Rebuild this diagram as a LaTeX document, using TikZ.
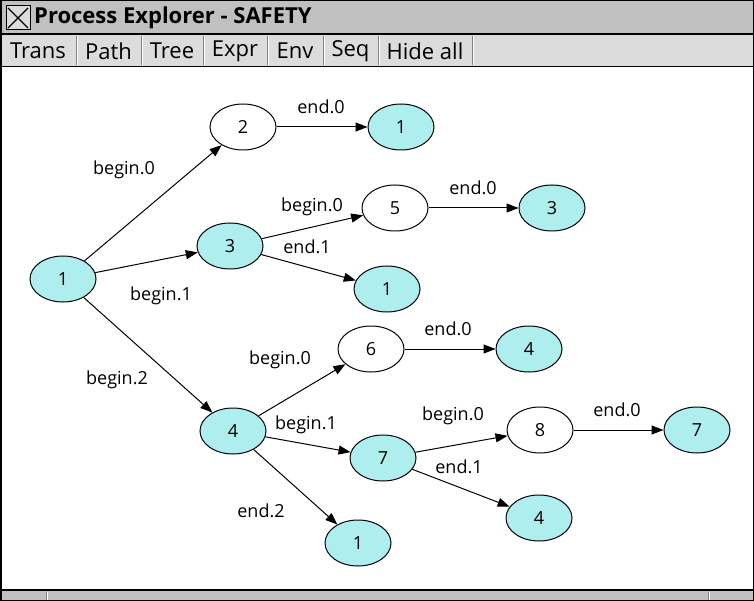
\documentclass[tikz,border=0pt]{standalone}
\usepackage{fontspec}
\setmainfont{Open Sans}
\usetikzlibrary{shapes.geometric,arrows.meta}
\definecolor{statefill}{RGB}{175,238,238}
\definecolor{titlegray}{RGB}{192,192,192}
\definecolor{bargray}{RGB}{220,220,220}

\begin{document}
\begin{tikzpicture}[x=1pt,y=-1pt,every node/.style={font=\fontsize{18}{21}\selectfont},
state/.style={ellipse,draw,line width=1pt,minimum width=66pt,minimum height=46pt,inner sep=0pt,fill=white},
seen/.style={state,fill=statefill},
trans/.style={-{Triangle[length=12pt,width=9pt]},line width=1pt},
lab/.style={inner sep=0pt},
button/.style={font=\fontsize{22}{25}\selectfont,inner sep=0pt}
]
\useasboundingbox (0,0) rectangle (754,601);
% window
\fill[white] (0,0) rectangle (754,601);
\fill[titlegray] (0,0) rectangle (754,34);
\fill[bargray] (0,34) rectangle (754,66);
\fill[titlegray] (0,590) rectangle (754,601);
\draw[line width=2pt] (0,34) -- (754,34);
\draw[line width=1.5pt] (0,66.5) -- (754,66.5);
\draw[line width=1.5pt] (0,590) -- (754,590);
\draw[line width=1.5pt] (0.75,0.75) rectangle (753.25,600.25);
\draw[fill=bargray,line width=1pt] (6,6) rectangle (30,30);
\draw[line width=1.3pt] (8,8) -- (28,28) (28,8) -- (8,28);
\node[font=\bfseries\fontsize{22}{25}\selectfont,anchor=west,inner sep=0pt] (title) at (34,18) {Process Explorer - SAFETY};
\foreach \txt/\l/\r in {Trans/0/76,Path/76/141,Tree/141/203,Expr/203/267,Env/267/323,Seq/323/378,Hide all/378/472}{
\node[button] (b\r) at ({(\l+\r)/2},51) {\txt};
\draw[gray,line width=1pt] (\r,36) -- (\r,65);
\draw[white,line width=1pt] (\r+1.5,36) -- (\r+1.5,65);
} % <- end buttons
\foreach \x in {46,708}{
\draw[gray,line width=1pt] (\x,592) -- (\x,600);
\draw[white,line width=1pt] (\x+1.5,592) -- (\x+1.5,600);
} % <- end scrollbar

% states
\node[seen] (s1) at (63,279) {1};
\node[state] (s2) at (243,127) {2};
\node[seen] (s2a) at (401,127) {1};
\node[seen] (s3) at (230,246) {3};
\node[state] (s5) at (395,208) {5};
\node[seen] (s5a) at (552,208) {3};
\node[seen] (s3a) at (387,289) {1};
\node[seen] (s4) at (233,431) {4};
\node[state] (s6) at (371,349) {6};
\node[seen] (s6a) at (529,349) {4};
\node[seen] (s7) at (383,458) {7};
\node[state] (s8) at (540,430) {8};
\node[seen] (s8a) at (697,430) {7};
\node[seen] (s7a) at (539,518) {4};
\node[seen] (s4a) at (358,543) {1};

% transitions
\draw[trans] (s1) -- (s2);
\draw[trans] (s2) -- (s2a);
\draw[trans] (s1) -- (s3);
\draw[trans] (s3) -- (s5);
\draw[trans] (s5) -- (s5a);
\draw[trans] (s3) -- (s3a);
\draw[trans] (s1) -- (s4);
\draw[trans] (s4) -- (s6);
\draw[trans] (s6) -- (s6a);
\draw[trans] (s4) -- (s7);
\draw[trans] (s7) -- (s8);
\draw[trans] (s8) -- (s8a);
\draw[trans] (s7) -- (s7a);
\draw[trans] (s4) -- (s4a);

% labels
\node[lab] (l12) at (124,170) {begin.0};
\node[lab] (l22a) at (321,107) {end.0};
\node[lab] (l13) at (161,296) {begin.1};
\node[lab] (l35) at (312,207) {begin.0};
\node[lab] (l55a) at (473,188) {end.0};
\node[lab] (l33a) at (307,247) {end.1};
\node[lab] (l14) at (117,380) {begin.2};
\node[lab] (l46) at (280,360) {begin.0};
\node[lab] (l66a) at (448,329) {end.0};
\node[lab] (l47) at (306,425) {begin.1};
\node[lab] (l78) at (453,416) {begin.0};
\node[lab] (l88a) at (617,410) {end.0};
\node[lab] (l77a) at (459,467) {end.1};
\node[lab] (l44a) at (261,511) {end.2};
\end{tikzpicture}
\end{document}
